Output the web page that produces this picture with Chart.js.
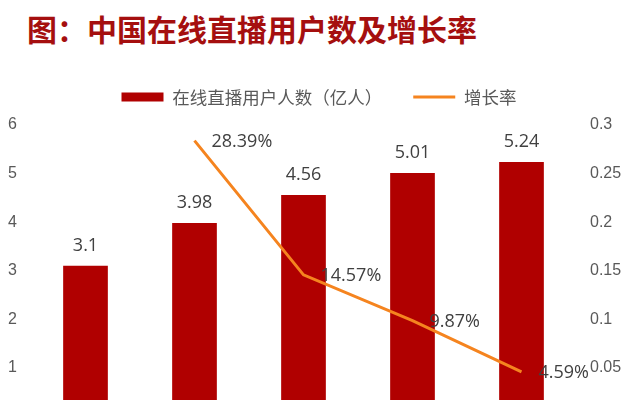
<!DOCTYPE html>
<html>
<head>
<meta charset="utf-8">
<script src="https://cdn.jsdelivr.net/npm/chart.js@4"></script>
<style>
  body { margin: 0; background: #fff; }
  #wrap { position: relative; width: 635px; height: 400px; overflow: hidden; }
  #title {
    position: absolute; left: 27px; top: 13px;
    font: bold 30px "Noto Sans CJK SC", sans-serif; line-height: 30px;
    color: #a50f0f; white-space: nowrap;
  }
  #chart { position: absolute; left: 0; top: 0; }
</style>
</head>
<body>
<div id="wrap">
  <div id="title">图：中国在线直播用户数及增长率</div>
  <canvas id="chart" width="635" height="440"></canvas>
</div>
<script>
const years = ['2016', '2017', '2018', '2019', '2020'];
const userCounts = [3.1, 3.98, 4.56, 5.01, 5.24];
const growthRates = [null, 0.2839, 0.1457, 0.0987, 0.0459];

const barColor = '#b00000';
const lineColor = '#f5841f';

// bar values above the bars, growth rates to the right of the points
const valueLabels = {
    id: 'valueLabels',
    afterDatasetsDraw(chart) {
        const ctx = chart.ctx;
        ctx.save();
        ctx.font = '18px "Open Sans", sans-serif';
        ctx.fillStyle = '#404040';
        ctx.textBaseline = 'middle';
        ctx.textAlign = 'center';
        chart.getDatasetMeta(0).data.forEach((bar, i) => {
            ctx.fillText(String(userCounts[i]), bar.x, bar.y - 20);
        });
        ctx.textAlign = 'left';
        chart.getDatasetMeta(1).data.forEach((pt, i) => {
            if (growthRates[i] == null) return;
            ctx.fillText((growthRates[i] * 100).toFixed(2) + '%', pt.x + 17, pt.y + 1);
        });
        ctx.restore();
    }
};

// a bit more room between the legend and the plot, legend nudged right
const legendTrim = {
    id: 'legendTrim',
    afterInit(chart) {
        const fit = chart.legend.fit;
        chart.legend.fit = function () {
            fit.call(this);
            this.height += 9.25;
        };
    },
    afterLayout(chart) {
        chart.legend.left += 4.5;
        chart.legend.right += 4.5;
    }
};

new Chart(document.getElementById('chart'), {
    type: 'bar',
    data: {
        labels: years,
        datasets: [
            {
                label: '在线直播用户人数（亿人）',
                data: userCounts,
                backgroundColor: barColor,
                borderWidth: 0,
                barPercentage: 0.41,
                categoryPercentage: 1,
                pointStyle: 'rect',
                yAxisID: 'y',
                order: 2
            },
            {
                type: 'line',
                label: '增长率',
                data: growthRates,
                borderColor: lineColor,
                backgroundColor: lineColor,
                borderWidth: 3,
                pointRadius: 0,
                pointBorderWidth: 3,
                pointStyle: 'line',
                tension: 0,
                yAxisID: 'y1',
                order: 1
            }
        ]
    },
    options: {
        responsive: false,
        animation: false,
        layout: { padding: { left: 8, right: 14, top: 57.25, bottom: 2 } },
        plugins: {
            legend: {
                position: 'top',
                labels: {
                    usePointStyle: true,
                    pointStyleWidth: 42,
                    boxHeight: 9,
                    padding: 31,
                    color: '#595959',
                    font: { family: '"Noto Sans CJK SC", sans-serif', size: 17.5 },
                    sort: (a, b) => a.datasetIndex - b.datasetIndex
                }
            },
            tooltip: { enabled: false }
        },
        scales: {
            x: {
                display: false
            },
            y: {
                position: 'left',
                min: 0,
                max: 6,
                grid: { display: false, drawTicks: false },
                border: { display: false },
                ticks: {
                    stepSize: 1,
                    padding: 14,
                    color: '#595959',
                    font: { family: '"Liberation Sans", sans-serif', size: 16 }
                },
                afterFit: s => { s.width = 23; }
            },
            y1: {
                position: 'right',
                min: 0,
                max: 0.3,
                grid: { display: false, drawTicks: false },
                border: { display: false },
                ticks: {
                    stepSize: 0.05,
                    padding: 14,
                    color: '#595959',
                    font: { family: '"Liberation Sans", sans-serif', size: 16 },
                    callback: v => String(+v.toFixed(2))
                },
                afterFit: s => { s.width = 45; }
            }
        }
    },
    plugins: [valueLabels, legendTrim]
});
</script>
</body>
</html>
